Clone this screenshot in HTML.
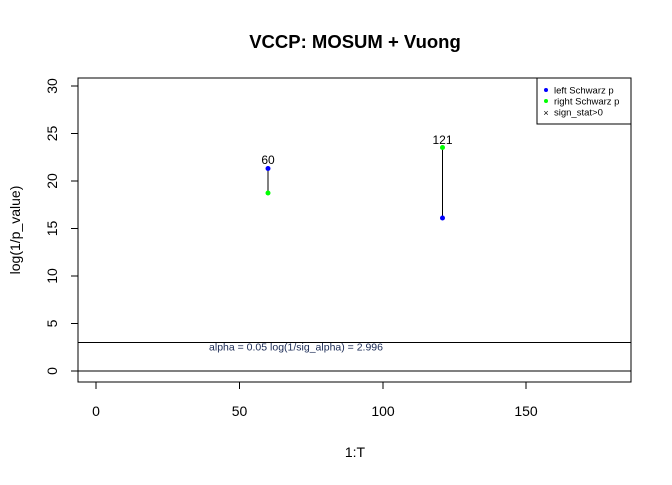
<!DOCTYPE html><html><head><style>body{margin:0;background:#fff}</style></head><body>
<svg width="672" height="480" xmlns="http://www.w3.org/2000/svg" font-family="Liberation Sans, Arial, sans-serif">
<rect width="672" height="480" fill="#fff"/>
<text x="355" y="48" font-size="18.5" font-weight="bold" text-anchor="middle">VCCP: MOSUM + Vuong</text>
<rect x="78" y="78" width="553" height="304" fill="none" stroke="#000"/>
<g stroke="#000">
<line x1="96" y1="382" x2="526" y2="382"/>
<line x1="96" y1="382" x2="96" y2="389"/><line x1="239.5" y1="382" x2="239.5" y2="389"/><line x1="383" y1="382" x2="383" y2="389"/><line x1="526" y1="382" x2="526" y2="389"/>
<line x1="78" y1="371" x2="78" y2="86"/>
<line x1="71" y1="371" x2="78" y2="371"/><line x1="71" y1="323.5" x2="78" y2="323.5"/><line x1="71" y1="276" x2="78" y2="276"/><line x1="71" y1="228.5" x2="78" y2="228.5"/><line x1="71" y1="181" x2="78" y2="181"/><line x1="71" y1="133.5" x2="78" y2="133.5"/><line x1="71" y1="86" x2="78" y2="86"/>
<line x1="78" y1="371" x2="631" y2="371"/>
<line x1="78" y1="342.5" x2="631" y2="342.5"/>
<line x1="268" y1="168.5" x2="268" y2="193"/>
<line x1="442.5" y1="147.5" x2="442.5" y2="218"/>
</g>
<g font-size="14" text-anchor="middle">
<text x="96" y="416">0</text><text x="239.5" y="416">50</text><text x="383" y="416">100</text><text x="526" y="416">150</text>
<text x="355" y="457">1:T</text>
</g>
<g font-size="14" text-anchor="middle">
<text transform="translate(57,371) rotate(-90)">0</text>
<text transform="translate(57,323.5) rotate(-90)">5</text>
<text transform="translate(57,276) rotate(-90)">10</text>
<text transform="translate(57,228.5) rotate(-90)">15</text>
<text transform="translate(57,181) rotate(-90)">20</text>
<text transform="translate(57,133.5) rotate(-90)">25</text>
<text transform="translate(57,86) rotate(-90)">30</text>
<text transform="translate(20,230) rotate(-90)">log(1/p_value)</text>
</g>
<text x="296" y="350.5" font-size="10.5" text-anchor="middle" fill="#1a2a55">alpha = 0.05 log(1/sig_alpha) = 2.996</text>
<circle cx="268" cy="168.5" r="2.5" fill="#0000ff"/>
<circle cx="268" cy="193" r="2.5" fill="#00ff00"/>
<circle cx="442.5" cy="147.5" r="2.5" fill="#00ff00"/>
<circle cx="442.5" cy="218" r="2.5" fill="#0000ff"/>
<text x="268" y="164" font-size="12" text-anchor="middle">60</text>
<text x="442.5" y="144" font-size="12" text-anchor="middle">121</text>
<rect x="537" y="78" width="94" height="46" fill="#fff" stroke="#000"/>
<circle cx="546" cy="90" r="2" fill="#0000ff"/>
<circle cx="546" cy="101" r="2" fill="#00ff00"/>
<text x="546" y="116" font-size="9" text-anchor="middle">×</text>
<g font-size="9.5"><text x="554" y="93.5">left Schwarz p</text><text x="554" y="104.5">right Schwarz p</text><text x="554" y="115.5">sign_stat&gt;0</text></g>
</svg>
</body></html>
